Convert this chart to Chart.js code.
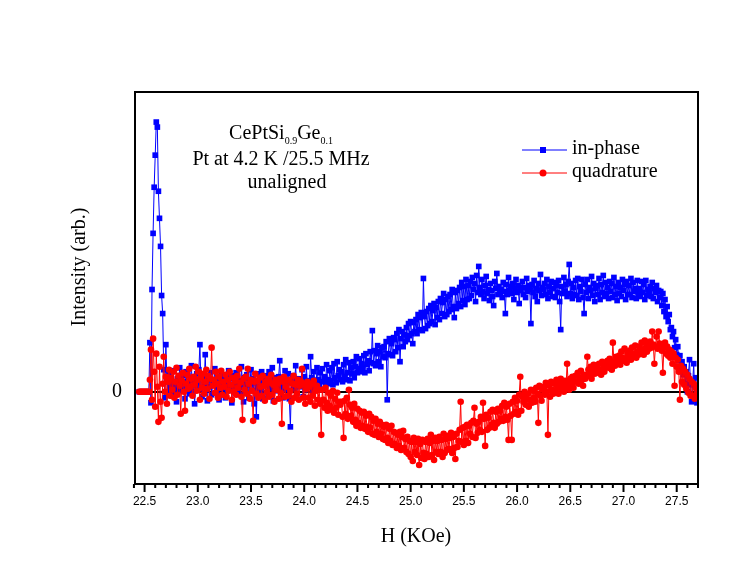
<!DOCTYPE html>
<html>
<head>
<meta charset="utf-8">
<script src="https://cdn.jsdelivr.net/npm/chart.js@4.4.1/dist/chart.umd.min.js"></script>
<style>
  html, body { margin: 0; padding: 0; background: #fff; }
  #wrap { width: 756px; height: 581px; }
</style>
</head>
<body>
<div id="wrap"><canvas id="nmrChart" width="756" height="581"></canvas></div>
<script>
// field sweep starts at 22.45 kOe, one reading every 0.01 kOe
const fieldStart = 22.45;
const fieldStep = 0.01;

// in-phase signal (arb. units), one row = 0.1 kOe
const inPhase = [
  0, 0, 0, 0, 0, 0, 0, 0, 0, 0,
  0.49, -0.11, 1.02, 1.58, 2.04, 2.36, 2.69, 2.64, 2.0, 1.73,
  1.45, 0.96, 0.78, 0.22, -0.06, 0.47, 0.1, 0.0, 0.18, 0.04,
  0.09, -0.04, 0.21, 0.06, 0.02, -0.1, 0.13, 0.08, 0.24, 0.01,
  0.05, 0.16, 0.1, -0.07, 0.2, 0.03, 0.07, -0.02, 0.12, 0.26,
  0.0, 0.11, -0.12, 0.06, 0.18, 0.09, 0.22, 0.47, 0.04, -0.05,
  0.15, 0.08, 0.37, 0.02, -0.09, 0.12, 0.05, 0.19, -0.03, 0.1,
  0.07, 0.23, -0.01, 0.04, 0.14, -0.08, 0.1, 0.17, 0.03, 0.09,
  0.12, -0.06, 0.08, 0.01, 0.21, 0.06, 0.13, -0.11, 0.16, 0.05,
  0.09, 0.19, 0.0, 0.11, 0.04, -0.03, 0.25, 0.08, -0.1, 0.14,
  0.03, 0.17, 0.07, -0.06, 0.1, 0.22, 0.01, 0.13, -0.12, 0.09,
  -0.25, 0.05, 0.18, 0.0, 0.11, 0.2, -0.07, 0.06, 0.12, 0.16,
  0.1, -0.04, 0.2, 0.07, 0.03, 0.24, -0.09, 0.14, 0.05, 0.09,
  0.01, 0.15, 0.31, 0.04, 0.1, -0.06, 0.08, 0.21, 0.02, 0.12,
  0.18, -0.07, -0.35, 0.09, 0.16, 0.03, 0.12, 0.26, -0.02, 0.07,
  0.13, 0.05, 0.1, 0.22, -0.05, 0.15, 0.02, 0.25, 0.08, 0.11,
  0.06, 0.35, 0.14, 0.01, 0.2, 0.09, 0.04, 0.24, 0.12, 0.07,
  0.19, 0.02, 0.23, 0.1, 0.15, 0.05, 0.27, 0.12, 0.08, 0.21,
  0.11, 0.24, 0.07, 0.28, 0.14, 0.09, 0.3, 0.16, 0.22, 0.12,
  0.2, 0.1, 0.27, 0.15, 0.32, 0.12, 0.19, 0.29, 0.11, 0.24,
  0.18, 0.3, 0.14, 0.25, 0.35, 0.19, 0.23, 0.33, 0.2, 0.28,
  0.24, 0.36, 0.19, 0.38, 0.27, 0.31, 0.21, 0.4, 0.29, 0.61,
  0.28, 0.41, 0.26, 0.38, 0.46, 0.3, 0.4, 0.25, 0.44, 0.35,
  0.45, 0.34, 0.5, -0.08, 0.38, 0.53, 0.37, 0.48, 0.36, 0.54,
  0.52, 0.4, 0.58, 0.44, 0.62, 0.3, 0.53, 0.6, 0.45, 0.57,
  0.5, 0.64, 0.52, 0.68, 0.56, 0.7, 0.58, 0.48, 0.69, 0.6,
  0.72, 0.58, 0.77, 0.62, 0.74, 0.79, 0.61, 1.13, 0.75, 0.63,
  0.8, 0.66, 0.83, 0.68, 0.86, 0.7, 0.81, 0.88, 0.67, 0.84,
  0.74, 0.9, 0.72, 0.93, 0.78, 0.89, 0.98, 0.75, 0.92, 0.77,
  0.95, 0.8, 0.97, 0.82, 1.02, 0.85, 0.74, 0.99, 0.83, 1.01,
  0.88, 1.04, 0.85, 1.09, 0.91, 1.05, 0.87, 1.12, 0.92, 1.06,
  0.93, 1.1, 0.96, 1.14, 1.02, 1.08, 0.9, 1.16, 0.99, 1.25,
  1.04, 0.97, 1.12, 1.0, 0.93, 1.06, 1.15, 0.98, 1.02, 0.91,
  1.08, 1.01, 0.95, 0.86, 1.1, 1.03, 1.18, 0.97, 1.05, 0.99,
  1.02, 0.94, 1.09, 1.0, 0.78, 1.07, 0.97, 1.14, 1.01, 1.05,
  0.98, 1.08, 0.92, 1.03, 1.12, 0.99, 1.06, 0.88, 1.01, 1.04,
  1.1, 0.97, 1.04, 0.94, 1.13, 1.0, 1.06, 1.02, 0.68, 1.07,
  0.99, 1.11, 0.95, 1.03, 0.9, 1.08, 1.01, 1.17, 0.96, 1.04,
  1.02, 1.08, 0.97, 1.12, 0.93, 1.05, 0.99, 1.1, 0.95, 1.03,
  1.09, 0.94, 1.06, 0.99, 1.11, 0.9, 0.62, 1.05, 0.98, 1.14,
  1.0, 1.07, 0.95, 1.1, 1.27, 0.98, 1.08, 0.93, 1.04, 0.97,
  1.11, 0.96, 1.13, 0.92, 1.05, 1.0, 1.12, 0.94, 0.78, 1.07,
  0.99, 1.12, 0.93, 1.04, 1.01, 1.15, 0.96, 1.08, 0.9, 1.03,
  1.06, 0.97, 1.13, 0.92, 1.07, 0.99, 1.16, 0.95, 1.09, 0.98,
  1.04, 0.93, 1.1, 1.0, 1.08, 0.94, 1.14, 0.97, 1.05, 0.91,
  1.09, 0.98, 1.04, 0.95, 1.12, 1.01, 1.07, 0.92, 1.1, 0.97,
  1.06, 0.97, 1.13, 0.94, 1.09, 1.0, 1.03, 0.93, 1.11, 0.98,
  1.03, 0.95, 1.1, 0.99, 1.07, 0.92, 1.11, 0.96, 1.02, 1.0,
  1.05, 0.95, 1.09, 0.93, 1.03, 0.99, 1.06, 0.9, 1.01, 0.94,
  1.0, 0.86, 0.98, 0.8, 0.92, 0.75, 0.85, 0.7, 0.77, 0.62,
  0.64, 0.55, 0.6, 0.44, 0.52, 0.37, 0.45, 0.31, 0.36, 0.25,
  0.3, 0.17, 0.25, 0.08, 0.2, 0.0, 0.16, 0.32, 0.07, -0.1,
  0.1, 0.28, -0.08, 0.14, -0.11
];

// quadrature signal (arb. units), same field points
const quadrature = [
  0, 0, 0, 0, 0, 0, 0, 0, 0, 0,
  0.12, 0.42, -0.08, 0.53, 0.2, -0.15, 0.38, 0.05, -0.3, 0.25,
  -0.1, -0.26, 0.08, 0.35, 0.0, 0.15, -0.12, 0.1, 0.22, -0.04,
  0.14, 0.02, 0.2, -0.06, 0.1, 0.24, -0.03, 0.16, 0.06, -0.22,
  0.11, 0.19, 0.0, -0.19, 0.08, 0.17, 0.03, 0.23, 0.05, 0.13,
  -0.04, 0.15, 0.07, 0.25, 0.01, 0.12, 0.2, -0.08, 0.14, 0.04,
  0.18, -0.02, 0.1, 0.22, 0.03, 0.16, -0.07, 0.13, 0.44, 0.06,
  0.12, -0.01, 0.2, 0.08, -0.06, 0.15, 0.04, 0.21, -0.03, 0.1,
  0.05, 0.17, -0.05, 0.12, 0.01, 0.2, 0.07, -0.08, 0.14, 0.0,
  0.11, -0.03, 0.16, 0.04, 0.23, 0.09, -0.05, -0.28, 0.13, 0.02,
  0.15, -0.02, 0.23, 0.08, -0.07, 0.12, 0.01, -0.29, 0.1, 0.18,
  -0.02, 0.11, -0.06, 0.14, 0.05, -0.04, 0.16, 0.06, -0.09, 0.1,
  0.0, 0.13, -0.05, 0.09, 0.17, -0.03, 0.07, -0.1, 0.12, 0.02,
  0.08, -0.07, 0.13, -0.01, -0.32, 0.1, 0.15, -0.05, 0.05, 0.11,
  -0.04, 0.12, 0.01, -0.1, 0.08, 0.16, -0.06, 0.07, -0.02, 0.12,
  -0.08, 0.06, 0.1, 0.23, -0.06, 0.08, -0.12, 0.03, 0.1, -0.06,
  0.05, -0.1, 0.08, -0.04, 0.11, -0.14, 0.01, 0.06, -0.08, 0.02,
  -0.12, -0.43, 0.02, -0.08, -0.16, 0.04, -0.11, -0.19, -0.01, -0.14,
  -0.04, -0.18, 0.01, -0.21, -0.07, -0.16, -0.01, -0.23, -0.1, -0.13,
  -0.1, -0.25, -0.46, -0.09, -0.22, -0.06, -0.27, 0.02, -0.13, -0.24,
  -0.16, -0.3, -0.12, -0.28, -0.34, -0.17, -0.31, -0.19, -0.36, -0.21,
  -0.34, -0.2, -0.37, -0.24, -0.35, -0.4, -0.22, -0.36, -0.25, -0.42,
  -0.29, -0.43, -0.27, -0.4, -0.32, -0.45, -0.3, -0.42, -0.33, -0.47,
  -0.35, -0.48, -0.33, -0.46, -0.51, -0.37, -0.49, -0.34, -0.53, -0.4,
  -0.52, -0.41, -0.56, -0.43, -0.54, -0.4, -0.58, -0.45, -0.39, -0.56,
  -0.47, -0.6, -0.45, -0.62, -0.49, -0.65, -0.5, -0.69, -0.46, -0.6,
  -0.5, -0.63, -0.47, -0.73, -0.52, -0.66, -0.48, -0.61, -0.67, -0.5,
  -0.62, -0.47, -0.65, -0.51, -0.43, -0.63, -0.49, -0.68, -0.46, -0.6,
  -0.49, -0.62, -0.45, -0.6, -0.48, -0.65, -0.42, -0.61, -0.47, -0.58,
  -0.44, -0.57, -0.46, -0.41, -0.61, -0.45, -0.56, -0.67, -0.42, -0.55,
  -0.49, -0.38, -0.1, -0.5, -0.36, -0.53, -0.35, -0.49, -0.33, -0.51,
  -0.34, -0.42, -0.31, -0.45, -0.29, -0.16, -0.46, -0.32, -0.41, -0.3,
  -0.38, -0.25, -0.4, -0.11, -0.27, -0.54, -0.23, -0.38, -0.26, -0.36,
  -0.2, -0.33, -0.18, -0.31, -0.36, -0.2, -0.32, -0.17, -0.3, -0.19,
  -0.27, -0.14, -0.29, -0.11, -0.25, -0.15, -0.28, -0.48, -0.12, -0.24,
  -0.48, -0.1, -0.22, -0.06, -0.2, -0.09, -0.23, -0.03, 0.15, -0.19,
  -0.05, -0.1, 0.0, -0.13, -0.07, -0.02, -0.15, -0.08, 0.02, -0.11,
  0.01, -0.06, -0.1, 0.04, -0.02, -0.31, 0.06, -0.04, -0.09, 0.02,
  0.05, -0.03, 0.09, 0.0, -0.43, 0.06, -0.05, 0.1, 0.02, -0.02,
  0.08, 0.01, 0.12, 0.04, -0.02, 0.09, 0.13, 0.03, 0.07, 0.0,
  0.11, 0.05, 0.28, 0.09, 0.02, 0.13, 0.07, 0.15, 0.04, 0.1,
  0.16, 0.1, 0.19, 0.08, 0.14, 0.21, 0.12, 0.06, 0.17, 0.13,
  0.15, 0.35, 0.22, 0.17, 0.25, 0.13, 0.2, 0.27, 0.18, 0.23,
  0.26, 0.19, 0.28, 0.22, 0.17, 0.3, 0.24, 0.2, 0.29, 0.25,
  0.31, 0.24, 0.33, 0.27, 0.22, 0.49, 0.3, 0.26, 0.35, 0.28,
  0.3, 0.36, 0.27, 0.4, 0.34, 0.31, 0.43, 0.33, 0.29, 0.38,
  0.35, 0.41, 0.32, 0.44, 0.38, 0.36, 0.46, 0.34, 0.4, 0.37,
  0.45, 0.39, 0.49, 0.42, 0.37, 0.51, 0.44, 0.4, 0.48, 0.43,
  0.5, 0.44, 0.6, 0.47, 0.28, 0.45, 0.55, 0.43, 0.6, 0.48,
  0.47, 0.41, 0.19, 0.44, 0.49, 0.38, 0.45, 0.36, 0.42, 0.34,
  0.4, 0.28, 0.38, 0.06, 0.34, 0.25, 0.32, 0.2, -0.08, 0.26,
  0.1, 0.23, 0.07, 0.2, 0.03, 0.17, -0.01, 0.13, -0.04, 0.1,
  -0.04, 0.08, -0.07, 0.04, -0.03
];

const xMajorTicks = [22.5, 23.0, 23.5, 24.0, 24.5, 25.0, 25.5, 26.0, 26.5, 27.0, 27.5];
const xTickLabels = ['22.5', '23.0', '23.5', '24.0', '24.5', '25.0', '25.5', '26.0', '26.5', '27.0', '27.5'];

const toPoints = (vals) => vals.map((v, i) => ({ x: +(fieldStart + i * fieldStep).toFixed(2), y: v }));

const serif = '"Liberation Serif", "Times New Roman", serif';

// frame, minor/major ticks, titles, note and legend
const decorPlugin = {
    id: 'decor',
    afterDatasetsDraw(chart) {
        const { ctx, chartArea: a } = chart;
        const xs = chart.scales.x;
        ctx.save();
        ctx.strokeStyle = '#000';
        ctx.lineWidth = 2;
        ctx.strokeRect(a.left, a.top, a.right - a.left, a.bottom - a.top);

        // tick marks every 0.1, longer at the labelled ones
        for (let k = 224; k <= 277; k++) {
            const px = xs.getPixelForValue(k / 10);
            const len = k % 5 === 0 ? 8 : 4;
            ctx.beginPath();
            ctx.moveTo(px, a.bottom);
            ctx.lineTo(px, a.bottom + len);
            ctx.stroke();
        }

        ctx.fillStyle = '#000';
        ctx.textAlign = 'center';
        ctx.textBaseline = 'middle';
        ctx.font = '20px ' + serif;
        ctx.fillText('H (KOe)', 416, 537);

        ctx.save();
        ctx.translate(80, 267);
        ctx.rotate(-Math.PI / 2);
        ctx.fillText('Intensity (arb.)', 0, 0);
        ctx.restore();

        // sample note with subscripts
        const parts = [['CePtSi', 20, 0], ['0.9', 10, 5], ['Ge', 20, 0], ['0.1', 10, 5]];
        let total = 0;
        parts.forEach(p => { ctx.font = p[1] + 'px ' + serif; total += ctx.measureText(p[0]).width; });
        let cx = 281 - total / 2;
        ctx.textAlign = 'left';
        ctx.textBaseline = 'alphabetic';
        parts.forEach(p => {
            ctx.font = p[1] + 'px ' + serif;
            ctx.fillText(p[0], cx, 139 + p[2]);
            cx += ctx.measureText(p[0]).width;
        });
        ctx.textAlign = 'center';
        ctx.font = '20px ' + serif;
        ctx.fillText('Pt at 4.2 K /25.5 MHz', 281, 165);
        ctx.fillText('unaligned', 287, 188);

        // legend
        const items = [
            { text: 'in-phase', color: '#0000ff', square: true, y: 150 },
            { text: 'quadrature', color: '#ff0000', square: false, y: 173 }
        ];
        items.forEach(it => {
            ctx.strokeStyle = it.color;
            ctx.fillStyle = it.color;
            ctx.lineWidth = 1;
            ctx.beginPath();
            ctx.moveTo(522, it.y);
            ctx.lineTo(567, it.y);
            ctx.stroke();
            if (it.square) {
                ctx.fillRect(540, it.y - 3, 6, 6);
            } else {
                ctx.beginPath();
                ctx.arc(543, it.y, 3.5, 0, Math.PI * 2);
                ctx.fill();
            }
            ctx.fillStyle = '#000';
            ctx.textAlign = 'left';
            ctx.textBaseline = 'middle';
            ctx.fillText(it.text, 572, it.y - 1);
        });
        ctx.restore();
    }
};

new Chart(document.getElementById('nmrChart'), {
    type: 'scatter',
    data: {
        datasets: [
            {
                label: 'in-phase',
                data: toPoints(inPhase),
                showLine: true,
                borderColor: '#0000ff',
                backgroundColor: '#0000ff',
                borderWidth: 1,
                pointStyle: 'rect',
                pointRadius: 4,
                pointBorderWidth: 0,
                order: 2
            },
            {
                label: 'quadrature',
                data: toPoints(quadrature),
                showLine: true,
                borderColor: '#ff0000',
                backgroundColor: '#ff0000',
                borderWidth: 1,
                pointStyle: 'circle',
                pointRadius: 3.3,
                pointBorderWidth: 0,
                order: 1
            }
        ]
    },
    options: {
        responsive: false,
        animation: false,
        devicePixelRatio: 1,
        layout: { padding: { top: 92, right: 58, left: 0, bottom: 0 } },
        plugins: {
            legend: { display: false },
            tooltip: { enabled: false }
        },
        scales: {
            x: {
                type: 'linear',
                min: 22.41,
                max: 27.70,
                grid: { display: false, drawTicks: false },
                border: { display: false },
                afterBuildTicks: (s) => { s.ticks = xMajorTicks.map(v => ({ value: v })); },
                afterFit: (s) => { s.height = 97; },
                ticks: {
                    padding: 10,
                    color: '#000',
                    maxRotation: 0,
                    autoSkip: false,
                    font: { family: '"Liberation Sans", Arial, sans-serif', size: 12 },
                    callback: (v, i) => xTickLabels[i]
                }
            },
            y: {
                min: -0.92,
                max: 2.99,
                grid: { color: '#000', lineWidth: 2, drawTicks: false },
                border: { display: false },
                afterBuildTicks: (s) => { s.ticks = [{ value: 0 }]; },
                afterFit: (s) => { s.width = 135; },
                ticks: {
                    padding: 13,
                    color: '#000',
                    font: { family: serif, size: 20 }
                }
            }
        }
    },
    plugins: [decorPlugin]
});
</script>
</body>
</html>
